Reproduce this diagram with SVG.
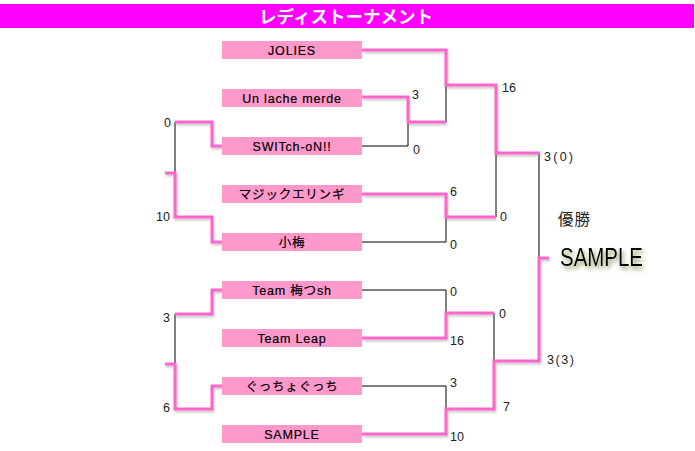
<svg xmlns="http://www.w3.org/2000/svg" width="695" height="451" viewBox="0 0 695 451">
<defs>
<style>
.box{fill:#ff99cc}
.name{font-family:"Liberation Sans","Noto Sans CJK JP",sans-serif;font-size:12.5px;letter-spacing:0.8px;fill:#000;stroke:#000;stroke-width:0.2;text-anchor:middle}
.sc{font-family:"Liberation Sans","Noto Sans CJK JP",sans-serif;font-size:12.5px;fill:#222}
.pk{fill:none;stroke:#ff66cc;stroke-width:3;filter:url(#sh)}
.bk{fill:none;stroke:#000;stroke-width:1}
</style>
<filter id="sh" x="-10%" y="-10%" width="130%" height="130%">
<feDropShadow dx="1" dy="2" stdDeviation="0.8" flood-color="#888" flood-opacity="0.45"/>
</filter>
<filter id="glow" x="-20%" y="-30%" width="140%" height="170%">
<feGaussianBlur in="SourceAlpha" stdDeviation="2"/>
<feOffset dx="2" dy="3" result="b"/>
<feFlood flood-color="#7a7a40" flood-opacity="0.85"/>
<feComposite in2="b" operator="in"/>
<feMerge><feMergeNode/><feMergeNode in="SourceGraphic"/></feMerge>
</filter>
</defs>
<rect width="695" height="451" fill="#fff"/>
<g id="title">
<rect x="0" y="4" width="694" height="24" fill="#ff00ff"/>
<text x="346" y="22.5" text-anchor="middle" font-family="'Noto Sans CJK JP',sans-serif" font-size="17.5" font-weight="bold" fill="#fff">レディストーナメント</text>
</g>
<g id="connectors">
<path class="bk" d="M446,85V122M408,146V122M362,146H408M496,153V217M362,242H446V217M175,122V173M539,153V258M362,290H446V313M175,314V364M494,313V361M362,386H446V409"/>
<path class="pk" d="M362,50H446V85H496V153H540"/>
<path class="pk" d="M362,97H408V122H446"/>
<path class="pk" d="M362,194H446V217H496"/>
<path class="pk" d="M175,122H212V146H222"/>
<path class="pk" d="M165,173H175V217H212V242H222"/>
<path class="pk" d="M222,290H212V314H175"/>
<path class="pk" d="M362,338H446V313H494"/>
<path class="pk" d="M165,364H175V409H212V386H222"/>
<path class="pk" d="M362,434H446V409H494V361H539V258H549"/>
</g>
<g id="team-jolies"><rect class="box" x="222" y="41" width="140" height="18"/><text class="name" x="292" y="55">JOLIES</text></g>
<g id="team-unlache"><rect class="box" x="222" y="89" width="140" height="18"/><text class="name" x="292" y="103">Un lache merde</text></g>
<g id="team-switch"><rect class="box" x="222" y="137" width="140" height="18"/><text class="name" x="292" y="151">SWITch-oN!!</text></g>
<g id="team-magic"><rect class="box" x="222" y="185" width="140" height="18"/><text class="name" x="292" y="199">マジックエリンギ</text></g>
<g id="team-koume"><rect class="box" x="222" y="233" width="140" height="18"/><text class="name" x="292" y="247">小梅</text></g>
<g id="team-umetsush"><rect class="box" x="222" y="281" width="140" height="18"/><text class="name" x="292" y="295">Team 梅つsh</text></g>
<g id="team-leap"><rect class="box" x="222" y="329" width="140" height="18"/><text class="name" x="292" y="343">Team Leap</text></g>
<g id="team-guccho"><rect class="box" x="222" y="377" width="140" height="18"/><text class="name" x="292" y="391">ぐっちょぐっち</text></g>
<g id="team-sample"><rect class="box" x="222" y="425" width="140" height="18"/><text class="name" x="292" y="439">SAMPLE</text></g>
<g id="scores">
<text class="sc" x="164" y="127">0</text>
<text class="sc" x="156" y="221">10</text>
<text class="sc" x="163" y="322">3</text>
<text class="sc" x="163" y="412">6</text>
<text class="sc" x="412" y="99">3</text>
<text class="sc" x="413" y="154">0</text>
<text class="sc" x="502" y="92">16</text>
<text class="sc" x="544" y="161" textLength="29">3(0)</text>
<text class="sc" x="450" y="196">6</text>
<text class="sc" x="500" y="221">0</text>
<text class="sc" x="450" y="249">0</text>
<text class="sc" x="450" y="296">0</text>
<text class="sc" x="499" y="318">0</text>
<text class="sc" x="450" y="345">16</text>
<text class="sc" x="547" y="364" textLength="27">3(3)</text>
<text class="sc" x="450" y="387">3</text>
<text class="sc" x="503" y="411" fill="#777">7</text>
<text class="sc" x="450" y="441">10</text>
</g>
<g id="champion">
<text x="558" y="225" font-family="'Noto Sans CJK JP',sans-serif" font-size="15.5" letter-spacing="1" fill="#222">優勝</text>
<text x="560" y="266" font-family="'Liberation Sans',sans-serif" font-size="25" fill="#000" textLength="83" lengthAdjust="spacingAndGlyphs" filter="url(#glow)">SAMPLE</text>
</g>
</svg>
